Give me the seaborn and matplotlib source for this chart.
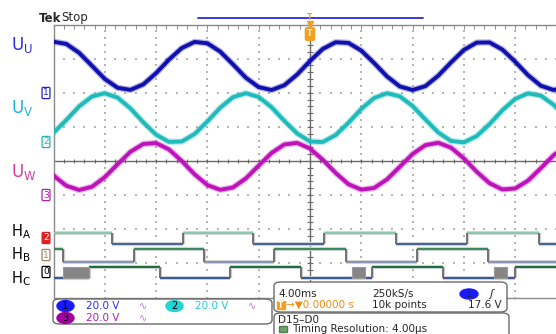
import numpy as np
import pandas as pd
import seaborn as sns
import matplotlib.pyplot as plt
from matplotlib.patches import FancyBboxPatch, Ellipse, Rectangle
from matplotlib.lines import Line2D

# time base: 4 ms/div, trigger point in the middle of the screen
t_ms = list(range(-20, 21))

# analog channels, volts (20 V/div), one value per ms
u_u = [30.2, 28.9, 23.7, 16.1, 8.4, 3.2, 2.0, 5.2, 11.8, 19.7, 26.5,
       30.1, 29.3, 24.4, 16.9, 9.1, 3.6, 1.9, 4.7, 11.0, 18.9, 26.0,
       29.9, 29.5, 25.0, 17.7, 9.9, 4.0, 1.9, 4.2, 10.3, 18.1, 25.4,
       29.7, 29.8, 25.6, 18.5, 10.6, 4.4, 1.9, 3.8]
u_v = [5.2, 12.7, 20.7, 26.5, 28.4, 25.8, 19.5, 11.4, 4.1, -0.1, 0.1,
       4.5, 11.9, 19.9, 26.1, 28.4, 26.2, 20.2, 12.2, 4.8, 0.1, -0.2,
       3.9, 11.1, 19.2, 25.6, 28.4, 26.6, 20.9, 13.0, 5.4, 0.4, -0.4,
       3.3, 10.3, 18.4, 25.1, 28.3, 27.0, 21.6, 13.9]
u_w = [11.5, 5.5, 3.0, 4.9, 10.5, 18.1, 25.4, 30.0, 30.5, 26.8, 20.0,
       12.2, 5.9, 3.1, 4.5, 9.8, 17.3, 24.7, 29.7, 30.6, 27.3, 20.7,
       13.0, 6.4, 3.2, 4.2, 9.2, 16.6, 24.1, 29.3, 30.7, 27.8, 21.5,
       13.7, 7.0, 3.3, 3.9, 8.5, 15.8, 23.4, 29.0]

# ground marker of each channel, divisions above screen centre
ch_pos = {"1": 1.985, "2": 0.566, "3": -1.0}
volts_per_div = 20.0

# digital lines: level at the left edge, then edge times in ms
ha_start = 1
ha_edges = [-15.43, -9.90, -4.44, 1.09, 6.70, 12.24, 17.85]
hb_start = 1
hb_edges = [-19.25, -13.72, -8.26, -2.81, 2.81, 8.34, 13.87]
hc_start = 0
hc_edges = [-17.22, -11.69, -6.24, -0.70, 4.83, 10.37, 15.98]
hc_blocks = [(-19.25, -17.22), (3.27, 4.29), (14.34, 15.35)]

sns.set_style("white")
plt.rcParams["font.family"] = ["DejaVu Sans"]

W, H = 556, 334


def fx(x):
    return x / W


def fy(y):
    return 1 - y / H


fig = plt.figure(figsize=(W / 100, H / 100), dpi=100)
ax = fig.add_axes([fx(53.5), fy(297.5), 513 / W, 273 / H])
ax.set_xlim(-20, 20)
ax.set_ylim(-4, 4)

# graticule
minor_x = np.arange(-20, 20.01, 0.8)
minor_y = np.arange(-4, 4.01, 0.2)
for xv in [-16, -12, -8, -4, 4, 8, 12, 16]:
    ax.scatter(np.full_like(minor_y, xv), minor_y, s=1.0, marker="s",
               color="#b4b4b4", linewidths=0, zorder=1)
for yv in [-3, -2, -1, 1, 2, 3]:
    ax.scatter(minor_x, np.full_like(minor_x, yv), s=1.0, marker="s",
               color="#b4b4b4", linewidths=0, zorder=1)
ax.axhline(0, color="#6a6a6a", lw=1.0, zorder=1)
ax.axvline(0, color="#6a6a6a", lw=1.0, zorder=1)
ax.scatter(minor_x, np.zeros_like(minor_x), marker="|", s=10,
           color="#6a6a6a", linewidths=0.8, zorder=1)
ax.scatter(np.zeros_like(minor_y), minor_y, marker="_", s=14,
           color="#6a6a6a", linewidths=0.8, zorder=1)

ax.set_xticks(minor_x)
ax.set_yticks(minor_y)
ax.tick_params(direction="in", length=3, width=0.7, color="#8a8a8a",
               top=True, right=True, labelbottom=False, labelleft=False)
for sp in ax.spines.values():
    sp.set_color("#8a8a8a")
    sp.set_linewidth(1.0)

# analog traces
df = pd.DataFrame({
    "t": t_ms * 3,
    "volts": u_u + u_v + u_w,
    "ch": ["1"] * len(u_u) + ["2"] * len(u_v) + ["3"] * len(u_w),
})
df["div"] = df["ch"].map(ch_pos) + df["volts"] / volts_per_div
palette = {"1": "#1010ae", "2": "#20baba", "3": "#be12ba"}
sns.lineplot(data=df, x="t", y="div", hue="ch", palette=palette,
             estimator=None, sort=False, linewidth=4.6, alpha=0.3,
             legend=False, ax=ax, zorder=3)
sns.lineplot(data=df, x="t", y="div", hue="ch", palette=palette,
             estimator=None, sort=False, linewidth=2.8,
             legend=False, ax=ax, zorder=4)
ax.set_xlabel("")
ax.set_ylabel("")


def segments(start, edges, t0=-20.0, t1=20.0):
    bounds = [t0] + edges + [t1]
    state = start
    out = []
    for a, b in zip(bounds[:-1], bounds[1:]):
        out.append((a, b, state))
        state = 1 - state
    return out


digital = [
    (ha_start, ha_edges, (-2.10, -2.43), "#8cc8a4", "#4a6496"),
    (hb_start, hb_edges, (-2.58, -2.96), "#3a8a5a", "#8896b4"),
    (hc_start, hc_edges, (-3.11, -3.43), "#1e6e3e", "#3a5a98"),
]
for start, edges, (hi, lo), c_hi, c_lo in digital:
    for a, b, s in segments(start, edges):
        y = hi if s else lo
        ax.hlines(y, a, b, color="#d4d8dc", lw=3.0, zorder=2)
        ax.hlines(y, a, b, color=c_hi if s else c_lo, lw=1.5, zorder=3)
    ax.vlines(np.array(edges) + 0.1, lo, hi, color="#cfcfcf", lw=1.6, zorder=2)
    ax.vlines(edges, lo, hi, color="#686868", lw=1.3, zorder=3)
for a, b in hc_blocks:
    ax.add_patch(Rectangle((a, -3.43), b - a, 0.32, facecolor="#858585",
                           edgecolor="#9a9a9a", lw=0.8, zorder=4))

# header
fig.text(fx(39), fy(18), "Tek", fontsize=8.5, fontweight="bold", va="center")
fig.text(fx(61), fy(18), "Stop", fontsize=8.5, va="center")
fig.add_artist(Line2D([fx(198), fx(423)], [fy(18), fy(18)], color="#2a2ad8", lw=1.3))
fig.text(fx(310), fy(17), "T", fontsize=5.5, color="#f0a020", ha="center",
         va="center", fontweight="bold")
fig.add_artist(Line2D([fx(310)], [fy(24)], marker="v", ms=4.5, color="#f0a020"))
fig.text(fx(310), fy(34), "T", fontsize=5.5, color="white", ha="center",
         va="center", fontweight="bold",
         bbox=dict(boxstyle="round,pad=0.25", fc="#f0a020", ec="#f0a020"))

# trace labels on the left
labels = [
    (45, "U", "U", "#2a2ae6", 12),
    (108, "U", "V", "#1eaee0", 12),
    (172, "U", "W", "#d23c9c", 12),
    (232, "H", "A", "black", 10.5),
    (255, "H", "B", "black", 10.5),
    (279, "H", "C", "black", 10.5),
]
for y, main, sub, col, fs in labels:
    fig.text(fx(11), fy(y), main + r"$_{\mathrm{" + sub + "}}$", fontsize=fs,
             color=col, va="center", ha="left")

# channel ground markers
markers = [
    (93, "1", "#2020d0", "white", "#2020d0"),
    (142, "2", "#20b4b4", "white", "#20b4b4"),
    (195, "3", "#b020b0", "white", "#b020b0"),
    (238, "2", "white", "#e02020", "#e02020"),
    (255, "1", "#a08060", "white", "#a08060"),
    (272, "0", "black", "white", "black"),
]
for y, lab, tc, fc, ec in markers:
    fig.text(fx(46), fy(y), lab, fontsize=6.5, color=tc, ha="center", va="center",
             bbox=dict(boxstyle="round,pad=0.12", fc=fc, ec=ec, lw=0.9))

# channel readout box
fig.add_artist(FancyBboxPatch((fx(53), fy(324)), (272 - 53) / W, 25 / H,
                              boxstyle="round,pad=0,rounding_size=0.012",
                              fc="white", ec="#6a6a6a", lw=1.0))
readouts = [
    (57, 306, "1", "#1a1aff", "#2a2af0"),
    (166, 306, "2", "#22d4d4", "#22c8dc"),
    (57, 318, "3", "#a000a0", "#b020b0"),
]
for x, y, lab, pill, tcol in readouts:
    fig.add_artist(Ellipse((fx(x + 8.5), fy(y)), 17 / W, 11 / H, fc=pill, ec=pill))
    fig.text(fx(x + 8.5), fy(y), lab, fontsize=7, ha="center", va="center", color="black")
    fig.text(fx(x + 29), fy(y), "20.0 V", fontsize=7.5, va="center", color=tcol)
    fig.text(fx(x + 82), fy(y), "∿", fontsize=7, va="center", color="#b070d0")

# timebase / trigger box
fig.add_artist(FancyBboxPatch((fx(274), fy(312)), (507 - 274) / W, 30 / H,
                              boxstyle="round,pad=0,rounding_size=0.012",
                              fc="white", ec="#6a6a6a", lw=1.0))
fig.text(fx(278), fy(294), "4.00ms", fontsize=7.5, va="center")
fig.text(fx(372), fy(294), "250kS/s", fontsize=7.5, va="center")
fig.add_artist(Ellipse((fx(469), fy(294)), 18 / W, 10 / H, fc="#1a1aff", ec="#1a1aff"))
fig.text(fx(469), fy(294), "1", fontsize=7, ha="center", va="center")
fig.text(fx(489), fy(294), "ʃ", fontsize=8, va="center", style="italic")
fig.add_artist(Rectangle((fx(277), fy(309)), 8 / W, 8 / H, fc="#f5a020", ec="#f5a020"))
fig.text(fx(281), fy(305), "T", fontsize=5.5, color="white", ha="center",
         va="center", fontweight="bold")
fig.text(fx(286), fy(305), "→▼0.00000 s", fontsize=7.5, va="center", color="#f08c10")
fig.text(fx(372), fy(305), "10k points", fontsize=7.5, va="center")
fig.text(fx(502), fy(305), "17.6 V", fontsize=7.5, va="center", ha="right")

# digital info box
fig.add_artist(FancyBboxPatch((fx(274), fy(345)), (509 - 274) / W, 32 / H,
                              boxstyle="round,pad=0,rounding_size=0.012",
                              fc="white", ec="#6a6a6a", lw=1.0))
fig.text(fx(278), fy(320), "D15–D0", fontsize=7.5, va="center")
fig.add_artist(Rectangle((fx(279), fy(332)), 8 / W, 6 / H, fc="#70a070", ec="#508050"))
fig.text(fx(292), fy(329), "Timing Resolution: 4.00µs", fontsize=7.5, va="center")

fig.savefig("out.png", dpi=100)
